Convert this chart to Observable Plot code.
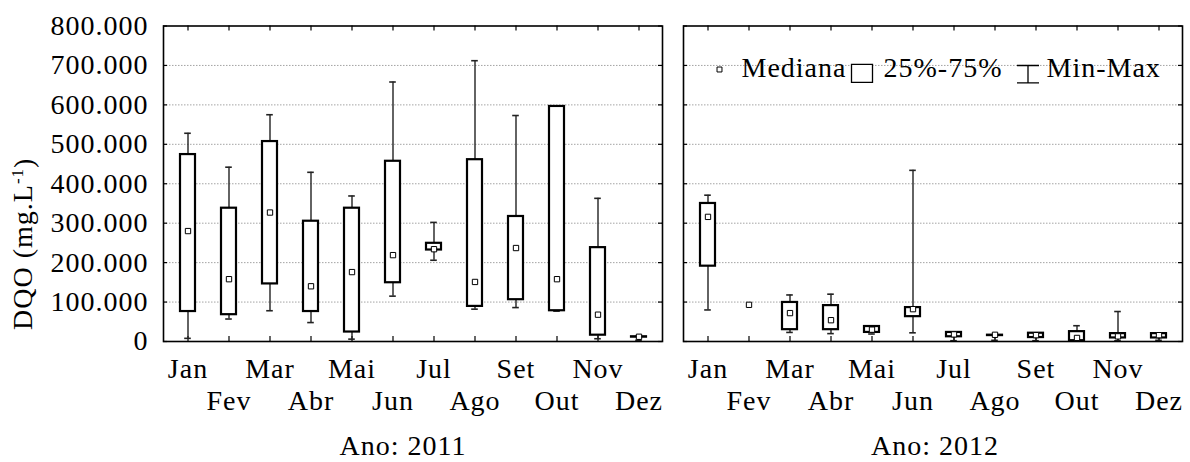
<!DOCTYPE html>
<html>
<head>
<meta charset="utf-8">
<script src="https://cdn.jsdelivr.net/npm/d3@7"></script>
<script src="https://cdn.jsdelivr.net/npm/@observablehq/plot@0.6"></script>
<style>
  html, body { margin: 0; padding: 0; background: #fff; }
  #chart svg text { letter-spacing: 1px; }
</style>
</head>
<body>
<div id="chart"></div>
<script>
// Monthly DQO (mg/L) box summaries, one panel per year
const years = ["2011", "2012"];
const months = ["Jan", "Fev", "Mar", "Abr", "Mai", "Jun", "Jul", "Ago", "Set", "Out", "Nov", "Dez"];
const monthsRow1 = ["Jan", "Mar", "Mai", "Jul", "Set", "Nov"];
const monthsRow2 = ["Fev", "Abr", "Jun", "Ago", "Out", "Dez"];
const yTicks = [0, 100, 200, 300, 400, 500, 600, 700, 800];
const gridTicks = [100, 200, 300, 400, 500, 600, 700];

// 2011
const min2011 = [8, 57, 78, 48, 6, 115, 206, 82, 86, 77, 7, 3];
const q1_2011 = [76, 68, 146, 76, 24, 149, 232, 89, 106, 78, 16, 11];
const med2011 = [280, 158, 327, 140, 176, 219, 234, 151, 237, 158, 68, 12];
const q3_2011 = [474, 338, 507, 305, 338, 457, 249, 461, 317, 596, 238, 12];
const max2011 = [528, 442, 575, 429, 369, 658, 302, 712, 573, 596, 363, 13];

// 2012 (February has a single reading: median only)
const min2012 = [80, null, 23, 20, 19, 22, 2, 3, 2, 2, 2, 3];
const q1_2012 = [191, null, 30, 30, 23, 63, 12, 15, 10, 2, 9, 9];
const med2012 = [316, 93, 72, 54, 30, 82, 18, 17, 16, 9, 13, 16];
const q3_2012 = [350, null, 99, 91, 38, 86, 23, 16, 21, 25, 20, 20];
const max2012 = [371, null, 118, 120, 38, 434, 23, 17, 21, 40, 76, 22];

const series = {
  "2011": [min2011, q1_2011, med2011, q3_2011, max2011],
  "2012": [min2012, q1_2012, med2012, q3_2012, max2012]
};

const boxes = years.flatMap(year => months.map((month, i) => {
  const [mn, a, m, b, mx] = series[year];
  return {year, month, min: mn[i], q1: a[i], med: m[i], q3: b[i], max: mx[i]};
}));

// legend glyphs
const legendBox = {draw(ctx) { ctx.rect(-10.5, -9, 21, 18); }};
const legendWhisker = {draw(ctx) {
  ctx.moveTo(-11, -8.7); ctx.lineTo(11, -8.7);
  ctx.moveTo(0, -8.7); ctx.lineTo(0, 8.7);
  ctx.moveTo(-11, 8.7); ctx.lineTo(11, 8.7);
}};
const legendAt = [{year: "2012"}];

const FW = 500;        // facet width
const FH = 315.5;      // facet height
const serif = "'Liberation Serif', 'Times New Roman', serif";

const chart = Plot.plot({
  width: 1190,
  height: 462,
  marginLeft: 162,
  marginRight: 7,
  marginTop: 25.5,
  marginBottom: 121,
  style: {fontFamily: serif, fontSize: "28px", color: "black", background: "white"},
  fx: {domain: years, paddingInner: 0.0403, paddingOuter: 0, axis: null, label: null},
  x: {domain: months, padding: 0},
  y: {domain: [0, 800]},
  marks: [
    Plot.gridY(gridTicks, {stroke: "#9a9a9a", strokeOpacity: 1, strokeWidth: 0.9, strokeDasharray: "1.5,1.5"}),
    // inward ticks on every panel edge
    Plot.ruleY(yTicks, {y: d => d, insetRight: FW - 5, stroke: "black", strokeWidth: 1.2}),
    Plot.ruleY(yTicks, {y: d => d, insetLeft: FW - 5, stroke: "black", strokeWidth: 1.2}),
    Plot.ruleX(months, {x: d => d, insetBottom: FH - 5, stroke: "black", strokeWidth: 1.2}),
    Plot.ruleX(months, {x: d => d, insetTop: FH - 5, stroke: "black", strokeWidth: 1.2}),
    // whiskers and caps
    Plot.ruleX(boxes, {fx: "year", x: "month", y1: "min", y2: "max", stroke: "#222", strokeWidth: 1.4}),
    Plot.tickY(boxes, {fx: "year", x: "month", y: "max", insetLeft: 17.2, insetRight: 17.2, stroke: "#222", strokeWidth: 1.6}),
    Plot.tickY(boxes, {fx: "year", x: "month", y: "min", insetLeft: 17.2, insetRight: 17.2, stroke: "#222", strokeWidth: 1.6}),
    // interquartile boxes
    Plot.barY(boxes, {fx: "year", x: "month", y1: "q1", y2: "q3", insetLeft: 13, insetRight: 13, fill: "white", stroke: "black", strokeWidth: 2.2}),
    // medians
    Plot.dot(boxes, {fx: "year", x: "month", y: "med", symbol: "square", r: 3, fill: "white", stroke: "black", strokeWidth: 1}),
    // axes
    Plot.axisY({anchor: "left", ticks: yTicks, tickSize: 0, tickPadding: 15, label: null,
      tickFormat: d => d === 0 ? "0" : d3.format(".3f")(d)}),
    Plot.axisX({anchor: "bottom", ticks: monthsRow1, tickSize: 0, tickPadding: 16.8, label: null}),
    Plot.axisX({anchor: "bottom", ticks: monthsRow2, tickSize: 0, tickPadding: 49, label: null}),
    Plot.text(["2011"], {fx: d => d, text: d => `Ano: ${d}`, frameAnchor: "bottom", lineAnchor: "middle", dy: 105, dx: -10}),
    Plot.text(["2012"], {fx: d => d, text: d => `Ano: ${d}`, frameAnchor: "bottom", lineAnchor: "middle", dy: 105, dx: 2}),
    Plot.text(["DQO (mg.L-1)"], {fx: () => "2011", text: d => d, frameAnchor: "left", textAnchor: "middle", lineAnchor: "middle", rotate: -90, dx: -140, dy: 60}),
    // legend
    Plot.dot(legendAt, {fx: "year", frameAnchor: "top-left", dx: 36, dy: 43.5, symbol: "square", r: 2.8, fill: "white", stroke: "black", strokeWidth: 1}),
    Plot.text(legendAt, {fx: "year", text: () => "Mediana", frameAnchor: "top-left", textAnchor: "start", lineAnchor: "middle", dx: 58, dy: 42.2}),
    Plot.dot(legendAt, {fx: "year", frameAnchor: "top-left", dx: 178.5, dy: 47.4, symbol: legendBox, r: 5, fill: "white", stroke: "black", strokeWidth: 1.3}),
    Plot.text(legendAt, {fx: "year", text: () => "25%-75%", frameAnchor: "top-left", textAnchor: "start", lineAnchor: "middle", dx: 200, dy: 42.2}),
    Plot.dot(legendAt, {fx: "year", frameAnchor: "top-left", dx: 344.5, dy: 48.2, symbol: legendWhisker, r: 5, fill: "none", stroke: "black", strokeWidth: 1.3}),
    Plot.text(legendAt, {fx: "year", text: () => "Min-Max", frameAnchor: "top-left", textAnchor: "start", lineAnchor: "middle", dx: 363, dy: 42.2}),
    Plot.frame({stroke: "black", strokeWidth: 1.6})
  ]
});

// superscript "-1" in the unit of the y label
d3.select(chart).selectAll("text").filter(function () { return this.textContent === "DQO (mg.L-1)"; })
  .each(function () {
    const t = d3.select(this);
    t.text("DQO (mg.L");
    t.append("tspan").attr("font-size", "17px").attr("dy", "-0.55em").text("-1");
    t.append("tspan").attr("dy", "0.35em").text(")");
  });

document.getElementById("chart").appendChild(chart);
</script>
</body>
</html>
